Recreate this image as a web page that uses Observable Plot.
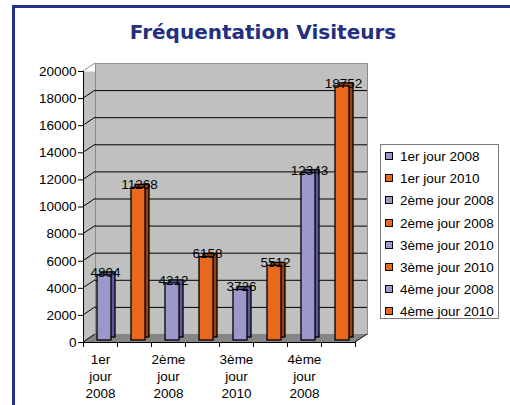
<!DOCTYPE html>
<html>
<head>
<meta charset="utf-8">
<script src="https://cdn.jsdelivr.net/npm/d3@7"></script>
<script src="https://cdn.jsdelivr.net/npm/@observablehq/plot@0.6"></script>
<style>
  html, body { margin: 0; padding: 0; background: #fff; }
  #page { position: relative; width: 510px; height: 405px; overflow: hidden; background: #fff; }
  #border { position: absolute; left: 12px; top: 5px; width: 600px; height: 500px;
            border-left: 3px solid #24318a; border-top: 3px solid #24318a; }
  #title { position: absolute; left: 0; width: 526px; top: 20px; text-align: center;
           font-family: "DejaVu Sans", Verdana, sans-serif; font-weight: bold; font-size: 20px;
           color: #22307f; }
  #chart { position: absolute; left: 0; top: 45px; }
  #legend { position: absolute; left: 380px; top: 144px; width: 119px; height: 175px;
            border: 1px solid #7a7a7a; background: #fff; box-sizing: border-box;
            font-family: "Liberation Sans", Arial, sans-serif; font-size: 13.5px; color: #000; }
  .item { position: absolute; left: 4px; height: 14px; line-height: 14px; white-space: nowrap; }
  .sw { display: inline-block; width: 6px; height: 6px; border: 1px solid #000;
        margin-right: 7px; vertical-align: 1px; }
</style>
</head>
<body>
<div id="page">
  <div id="border"></div>
  <div id="title">Fréquentation Visiteurs</div>
  <div id="chart"></div>
  <div id="legend"></div>
</div>
<script>
// ---- data ----
const categories = ["1er jour 2008", "1er jour 2010", "2ème jour 2008", "2ème jour 2008",
                    "3ème jour 2010", "3ème jour 2010", "4ème jour 2008", "4ème jour 2010"];
const values = [4804, 11268, 4212, 6158, 3726, 5512, 12343, 18752];
const yTicks = [0, 2000, 4000, 6000, 8000, 10000, 12000, 14000, 16000, 18000, 20000];
const frontColors = ["#9b99cc", "#e8691e", "#9b99cc", "#e8691e", "#9b99cc", "#e8691e", "#9b99cc", "#e8691e"];
const sideColors  = ["#5c5a99", "#96400f", "#5c5a99", "#96400f", "#5c5a99", "#96400f", "#5c5a99", "#96400f"];

const data = categories.map((name, i) => ({i, name, value: values[i], front: frontColors[i], side: sideColors[i]}));
const idx = d3.range(categories.length);

const W = 510, H = 360, ML = 83, MR = 155, MT = 26, MB = 63;
const band = (W - ML - MR) / categories.length;
const DX = 12, DY = -8; // wall depth

// side-wall connectors and floor, drawn from the y scale
function sideWall(index, scales, values, dims) {
  const g = d3.create("svg:g");
  const y = scales.y;
  const x0 = dims.marginLeft, x1 = dims.width - dims.marginRight;
  const y0 = y(0);
  g.append("path")
    .attr("d", `M${x0},${y0}L${x0 + DX},${y0 + DY}L${x1 + DX},${y0 + DY}L${x1},${y0}Z`)
    .attr("fill", "#858585");
  g.append("line").attr("x1", x1).attr("y1", y0).attr("x2", x1 + DX).attr("y2", y0 + DY)
    .attr("stroke", "#000");
  for (const t of yTicks) {
    const py = y(t);
    g.append("line").attr("x1", x0).attr("y1", py)
      .attr("x2", x0 + DX).attr("y2", py + DY)
      .attr("stroke", t === 20000 ? "#8c8c8c" : "#000").attr("stroke-width", 1);
  }
  return g.node();
}

const chart = Plot.plot({
  width: W, height: H,
  marginLeft: ML, marginRight: MR, marginTop: MT, marginBottom: MB,
  style: {fontFamily: "'Liberation Sans', Arial, sans-serif", fontSize: "13.5px", background: "transparent", color: "#000"},
  x: {type: "band", domain: idx, padding: 0, axis: null},
  y: {domain: [0, 20000], axis: null},
  marks: [
    Plot.frame({fill: "#c0c0c0", stroke: null}),
    Plot.frame({fill: "#c0c0c0", stroke: "#8c8c8c", dx: DX, dy: DY}),
    Plot.ruleY(yTicks.filter(t => t > 0 && t < 20000), {dx: DX, dy: DY, stroke: "#000", strokeWidth: 1}),
    sideWall,
    Plot.barY(data, {x: "i", y: "value", fill: "side", insetLeft: 14, insetRight: 6, dx: 4, dy: -5,
                     stroke: "#000", strokeWidth: 1.3}),
    Plot.barY(data, {x: "i", y: "value", fill: "front", insetLeft: 14, insetRight: 6, dy: -2,
                     stroke: "#000", strokeWidth: 1.3}),
    Plot.ruleY([0], {stroke: "#000", strokeWidth: 1}),
    Plot.ruleX([0], {dx: -band / 2, stroke: "#000", strokeWidth: 1}),
    Plot.axisY({ticks: yTicks, tickSize: 5, tickPadding: 2, tickFormat: d => String(d), label: null, fontSize: 13.5}),
    Plot.axisX({ticks: idx, tickSize: 5, dx: -band / 2, tickFormat: () => "", label: null}),
    Plot.axisX({ticks: [idx[idx.length - 1]], tickSize: 5, dx: band / 2, tickFormat: () => "", label: null}),
    Plot.axisX({ticks: idx, tickSize: 0, tickPadding: 10, lineHeight: 1.25, label: null,
                tickFormat: (d, i) => d % 2 === 0 ? categories[d].replace(/ /g, "\n") : "", fontSize: 13.5}),
    Plot.text(data, {x: "i", y: "value", text: d => String(d.value), dx: 5, dy: -5, fill: "#000", fontSize: 13.5})
  ]
});
document.getElementById("chart").appendChild(chart);

// legend
const legend = document.getElementById("legend");
categories.forEach((c, i) => {
  const it = document.createElement("div");
  it.className = "item";
  it.style.top = (5 + i * 22.2) + "px";
  it.innerHTML = `<span class="sw" style="background:${frontColors[i]}"></span>${c}`;
  legend.appendChild(it);
});
</script>
</body>
</html>
